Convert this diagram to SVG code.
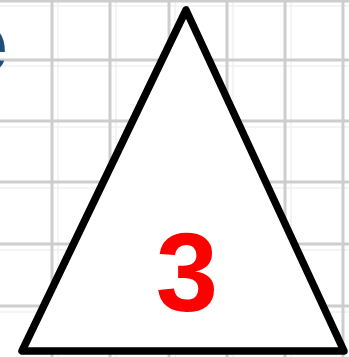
<svg xmlns="http://www.w3.org/2000/svg" width="349" height="357" viewBox="0 0 349 357">
<defs>
<filter id="soft" x="-5%" y="-5%" width="110%" height="110%"><feGaussianBlur stdDeviation="0.7"/></filter>
</defs>
<style>
.grid line{stroke:#cdcdcd;stroke-width:3}
.gridsoft line{stroke:#f1f1f1;stroke-width:1.5}
</style>
<rect width="349" height="357" fill="#ffffff"/>
<g class="gridsoft">
<line x1="0" y1="6" x2="349" y2="6"/>
<line x1="0" y1="66" x2="349" y2="66"/>
<line x1="0" y1="127" x2="349" y2="127"/>
<line x1="0" y1="188" x2="349" y2="188"/>
<line x1="0" y1="250" x2="349" y2="250"/>
<line x1="0" y1="312" x2="349" y2="312"/>
<line x1="58" y1="0" x2="58" y2="357"/>
<line x1="116" y1="0" x2="116" y2="357"/>
<line x1="175" y1="0" x2="175" y2="357"/>
<line x1="233" y1="0" x2="233" y2="357"/>
<line x1="291" y1="0" x2="291" y2="357"/>
</g>
<g class="grid" filter="url(#soft)">
<line x1="0" y1="1" x2="349" y2="1"/>
<line x1="0" y1="60" x2="349" y2="60"/>
<line x1="0" y1="121" x2="349" y2="121"/>
<line x1="0" y1="182" x2="349" y2="182"/>
<line x1="0" y1="244" x2="349" y2="244"/>
<line x1="0" y1="306" x2="349" y2="306"/>
<line x1="52" y1="0" x2="52" y2="357"/>
<line x1="110" y1="0" x2="110" y2="357"/>
<line x1="169" y1="0" x2="169" y2="357"/>
<line x1="227" y1="0" x2="227" y2="357"/>
<line x1="285" y1="0" x2="285" y2="357"/>
<line x1="343" y1="0" x2="343" y2="357"/>
</g>
<text x="-40" y="72" font-family="'Liberation Sans', Arial, sans-serif" font-weight="bold" font-size="86" fill="#1f4e79">e</text>
<g id="triangle">
<polygon points="186,10 22,351 344,351" fill="#ffffff" stroke="#000000" stroke-width="7.5" stroke-linejoin="round"/>
<text x="187" y="311" text-anchor="middle" font-family="'Liberation Sans', Arial, sans-serif" font-weight="bold" font-size="112" fill="#ff0000">3</text>
</g>
</svg>
